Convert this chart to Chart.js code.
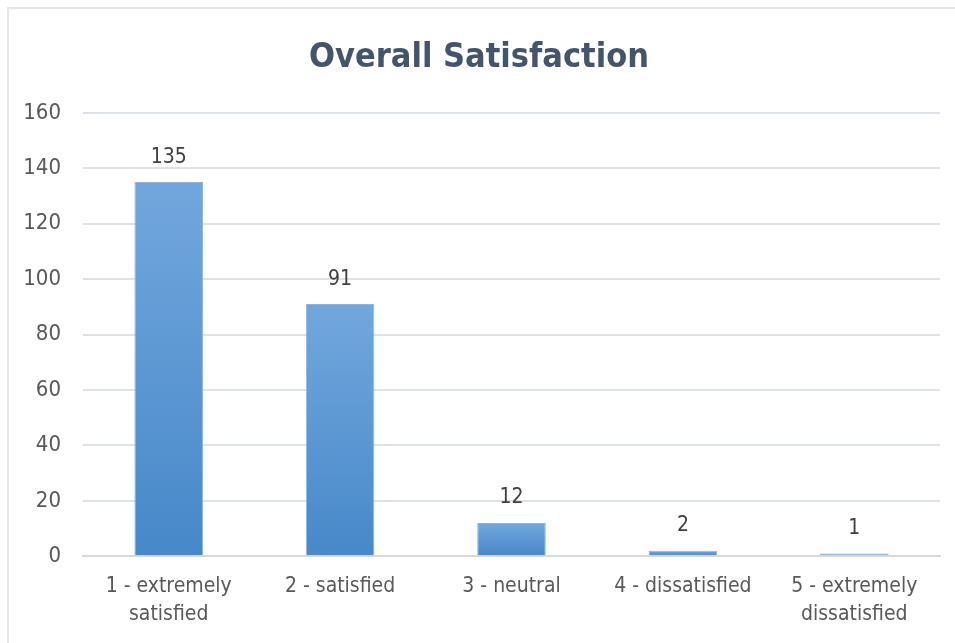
<!DOCTYPE html>
<html>
<head>
<meta charset="utf-8">
<title>Overall Satisfaction</title>
<script src="https://cdn.jsdelivr.net/npm/chart.js@4"></script>
<style>
    html, body { margin: 0; padding: 0; background: #fff; }
    #frame {
        position: absolute; left: 7px; top: 7px;
        width: 1000px; height: 700px;
        border: 2px solid #e4e7ec;
    }
    #wrap { position: absolute; left: 0; top: 0; width: 955px; height: 643px; }
</style>
</head>
<body>
<div id="frame"></div>
<div id="wrap"><canvas id="satisfacaoChart"></canvas></div>
<script>
// Respostas da pesquisa de satisfação
const categorias = [
    ['1 - extremely', 'satisfied'],
    '2 - satisfied',
    '3 - neutral',
    '4 - dissatisfied',
    ['5 - extremely', 'dissatisfied']
];
const respostas = [135, 91, 12, 2, 1];
const ticksY = [0, 20, 40, 60, 80, 100, 120, 140, 160];

const fonteTexto = "'DejaVu Sans Condensed', 'Liberation Sans', sans-serif";

// Rótulos com o valor em cima de cada barra
const rotulosValor = {
    id: 'rotulosValor',
    afterDatasetsDraw(chart) {
        const ctx = chart.ctx;
        const meta = chart.getDatasetMeta(0);
        ctx.save();
        ctx.font = '21px ' + fonteTexto;
        ctx.fillStyle = '#404040';
        ctx.textAlign = 'center';
        ctx.textBaseline = 'middle';
        meta.data.forEach(function(barra, i) {
            ctx.fillText(String(respostas[i]), barra.x, barra.y - 25);
        });
        ctx.restore();
    }
};

// Degradê vertical de cada barra (mais claro no topo)
function degradeBarra(context) {
    const chart = context.chart;
    const escalaY = chart.scales.y;
    if (!chart.chartArea || !escalaY || context.type !== 'data') return '#5b9bd5';
    const topo = escalaY.getPixelForValue(context.raw);
    const base = escalaY.getPixelForValue(0);
    const g = chart.ctx.createLinearGradient(0, topo, 0, Math.max(base, topo + 1));
    g.addColorStop(0, '#72a7dd');
    g.addColorStop(1, '#4788c9');
    return g;
}

const ctxSatisfacao = document.getElementById('satisfacaoChart').getContext('2d');

new Chart(ctxSatisfacao, {
    type: 'bar',
    data: {
        labels: categorias,
        datasets: [{
            label: 'Respostas',
            data: respostas,
            backgroundColor: degradeBarra,
            borderColor: '#8ab6e4',
            borderWidth: 1,
            categoryPercentage: 1,
            barPercentage: 0.4
        }]
    },
    options: {
        responsive: true,
        maintainAspectRatio: false,
        animation: false,
        layout: {
            padding: { left: 18, right: 15, top: 0, bottom: -2 }
        },
        plugins: {
            legend: { display: false },
            tooltip: { enabled: false },
            title: {
                display: true,
                text: 'Overall Satisfaction',
                color: '#44546a',
                font: { family: fonteTexto, size: 34, weight: 'bold' },
                padding: { top: 38, bottom: 34 }
            }
        },
        scales: {
            x: {
                grid: { display: false, drawTicks: false },
                border: { display: true, color: '#d9d9d9', width: 2 },
                ticks: {
                    color: '#595959',
                    font: { family: fonteTexto, size: 21, lineHeight: 1.35 },
                    padding: 16,
                    maxRotation: 0,
                    autoSkip: false
                }
            },
            y: {
                min: 0,
                max: 160,
                afterBuildTicks(scale) {
                    scale.ticks = ticksY.map(v => ({ value: v }));
                },
                afterFit(scale) {
                    scale.width = 65;
                },
                grid: { color: '#dfe3e8', lineWidth: 2, drawTicks: false },
                border: { display: false },
                ticks: {
                    color: '#595959',
                    font: { family: fonteTexto, size: 22 },
                    padding: 22
                }
            }
        }
    },
    plugins: [rotulosValor]
});
</script>
</body>
</html>
